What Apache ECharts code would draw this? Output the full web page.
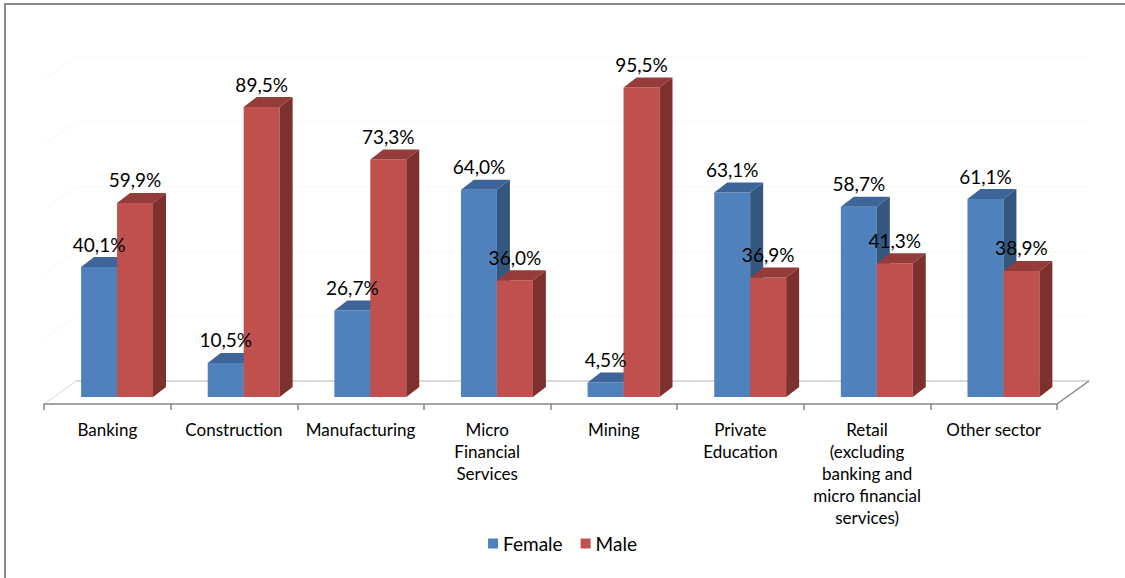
<!DOCTYPE html>
<html>
<head>
<meta charset="utf-8">
<title>Share of employees by sex and sector</title>
<script src="https://cdn.jsdelivr.net/npm/echarts@6/dist/echarts.min.js"></script>
<style>
  html, body { margin: 0; padding: 0; background: #ffffff; }
  #chart { width: 1125px; height: 578px; }
</style>
</head>
<body>
<div id="chart"></div>
<script>
// Sectors on the horizontal axis
const categories = [
  'Banking',
  'Construction',
  'Manufacturing',
  'Micro\nFinancial\nServices',
  'Mining',
  'Private\nEducation',
  'Retail\n(excluding\nbanking and\nmicro financial\nservices)',
  'Other sector'
];
// Percentage of employees by sex in each sector
const female = [40.1, 10.5, 26.7, 64.0, 4.5, 63.1, 58.7, 61.1];
const male = [59.9, 89.5, 73.3, 36.0, 95.5, 36.9, 41.3, 38.9];
// Faint guide lines on the back and side walls
const wallLines = [20, 40, 60, 80, 100];

// Oblique projection used for the 3D look
const FLOOR_DX = 32, FLOOR_DY = -23;     // floor depth (front edge -> back edge)
const BAR_FRONT = 7 / 23;                // bars' front face sits this far back on the floor
const BAR_DX = 13, BAR_DY = -10;         // bar depth
const BAR_WIDTH_RATIO = 0.284;           // width of one bar as a share of the category band

const palette = {
  Female: { front: '#4F81BD', top: '#3E6599', side: '#34577F' },
  Male:   { front: '#C0504D', top: '#953B39', side: '#7E302E' }
};

const FONT = 'Lato, "Liberation Sans", Arial, sans-serif';

function fmt(v) {
  return v.toFixed(1).replace('.', ',') + '%';
}

// Front-face geometry of one bar, computed through the axes
function barGeom(api, side) {
  const i = api.value(0), v = api.value(1);
  const cw = api.size([1, 0])[0];
  const top = api.coord([i, v]);
  const base = api.coord([i, 0]);
  const bw = cw * BAR_WIDTH_RATIO;
  const sx = FLOOR_DX * BAR_FRONT, sy = FLOOR_DY * BAR_FRONT;
  const x0 = top[0] + sx + (side === 0 ? -bw : 0);
  return { x0: x0, x1: x0 + bw, yt: top[1] + sy, yb: base[1] + sy, v: v };
}

function barRenderer(name, side) {
  const c = palette[name];
  return function (params, api) {
    const g = barGeom(api, side);
    return {
      type: 'group',
      children: [
        {
          type: 'rect',
          shape: { x: g.x0, y: g.yt, width: g.x1 - g.x0, height: g.yb - g.yt },
          style: { fill: c.front }
        },
        {
          type: 'polygon',
          shape: { points: [[g.x0, g.yt], [g.x1, g.yt], [g.x1 + BAR_DX, g.yt + BAR_DY], [g.x0 + BAR_DX, g.yt + BAR_DY]] },
          style: { fill: c.top }
        },
        {
          type: 'polygon',
          shape: { points: [[g.x1, g.yt], [g.x1 + BAR_DX, g.yt + BAR_DY], [g.x1 + BAR_DX, g.yb + BAR_DY], [g.x1, g.yb]] },
          style: { fill: c.side }
        }
      ]
    };
  };
}

function labelRenderer(side) {
  return function (params, api) {
    const g = barGeom(api, side);
    return {
      type: 'text',
      x: (g.x0 + g.x1) / 2,
      y: g.yt - 23,
      style: {
        text: fmt(g.v),
        fill: '#000000',
        font: '19px ' + FONT,
        align: 'center',
        verticalAlign: 'middle'
      }
    };
  };
}

// Floor plane plus faint wall lines
function floorRenderer(params, api) {
  const cs = params.coordSys;
  const xL = cs.x, xR = cs.x + cs.width, yF = api.coord([0, 0])[1];
  const children = [];
  children.push({
    type: 'polygon',
    shape: { points: [[xL, yF], [xR, yF], [xR + FLOOR_DX, yF + FLOOR_DY], [xL + FLOOR_DX, yF + FLOOR_DY]] },
    style: { fill: '#ffffff' }
  });
  wallLines.forEach(function (v) {
    const y = api.coord([0, v])[1];
    children.push({
      type: 'line',
      shape: { x1: xL + FLOOR_DX, y1: y + FLOOR_DY, x2: xR + FLOOR_DX, y2: y + FLOOR_DY },
      style: { stroke: '#f9f9f9', lineWidth: 1 }
    });
    children.push({
      type: 'line',
      shape: { x1: xL, y1: y, x2: xL + FLOOR_DX, y2: y + FLOOR_DY },
      style: { stroke: '#f6f6f6', lineWidth: 1 }
    });
  });
  children.push({
    type: 'line',
    shape: { x1: xL + FLOOR_DX, y1: yF + FLOOR_DY, x2: xR + FLOOR_DX, y2: yF + FLOOR_DY },
    style: { stroke: '#d9d9d9', lineWidth: 2 }
  });
  children.push({
    type: 'line',
    shape: { x1: xL, y1: yF, x2: xL + FLOOR_DX, y2: yF + FLOOR_DY },
    style: { stroke: '#d9d9d9', lineWidth: 1 }
  });
  children.push({
    type: 'line',
    shape: { x1: xR, y1: yF, x2: xR + FLOOR_DX, y2: yF + FLOOR_DY },
    style: { stroke: '#868686', lineWidth: 1.5 }
  });
  return { type: 'group', children: children };
}

const chart = echarts.init(document.getElementById('chart'), null, { renderer: 'svg' });

chart.setOption({
  backgroundColor: '#ffffff',
  animation: false,
  graphic: [
    {
      type: 'rect',
      shape: { x: 5, y: 4, width: 1300, height: 800 },
      style: { fill: 'none', stroke: '#898989', lineWidth: 2 },
      silent: true,
      z: 0
    }
  ],
  legend: {
    data: ['Female', 'Male'],
    top: 529,
    left: 'center',
    icon: 'rect',
    itemWidth: 10,
    itemHeight: 10,
    itemGap: 18,
    textStyle: { fontSize: 19, fontFamily: FONT, color: '#000000' }
  },
  grid: { left: 44, right: 68, top: 80, bottom: 174 },
  xAxis: {
    type: 'category',
    data: categories,
    z: 5,
    axisLine: { show: true, lineStyle: { color: '#868686', width: 1.5 } },
    axisTick: { show: true, interval: 0, length: 6, lineStyle: { color: '#868686', width: 1.5 } },
    axisLabel: {
      interval: 0,
      margin: 14,
      fontSize: 17,
      lineHeight: 22,
      fontFamily: FONT,
      color: '#000000',
      align: 'center'
    },
    splitLine: { show: false }
  },
  yAxis: {
    type: 'value',
    min: 0,
    max: 100,
    interval: 20,
    show: false
  },
  series: [
    {
      type: 'custom',
      name: 'floor',
      renderItem: floorRenderer,
      data: [[0, 0]],
      encode: { x: 0, y: 1 },
      silent: true,
      z: 1
    },
    {
      type: 'custom',
      name: 'Female',
      renderItem: barRenderer('Female', 0),
      data: female.map(function (v, i) { return [i, v]; }),
      encode: { x: 0, y: 1 },
      itemStyle: { color: palette.Female.front },
      z: 2
    },
    {
      type: 'custom',
      name: 'Male',
      renderItem: barRenderer('Male', 1),
      data: male.map(function (v, i) { return [i, v]; }),
      encode: { x: 0, y: 1 },
      itemStyle: { color: palette.Male.front },
      z: 3
    },
    {
      type: 'custom',
      name: 'Female labels',
      renderItem: labelRenderer(0),
      data: female.map(function (v, i) { return [i, v]; }),
      encode: { x: 0, y: 1 },
      silent: true,
      z: 4
    },
    {
      type: 'custom',
      name: 'Male labels',
      renderItem: labelRenderer(1),
      data: male.map(function (v, i) { return [i, v]; }),
      encode: { x: 0, y: 1 },
      silent: true,
      z: 4
    }
  ]
});
</script>
</body>
</html>
